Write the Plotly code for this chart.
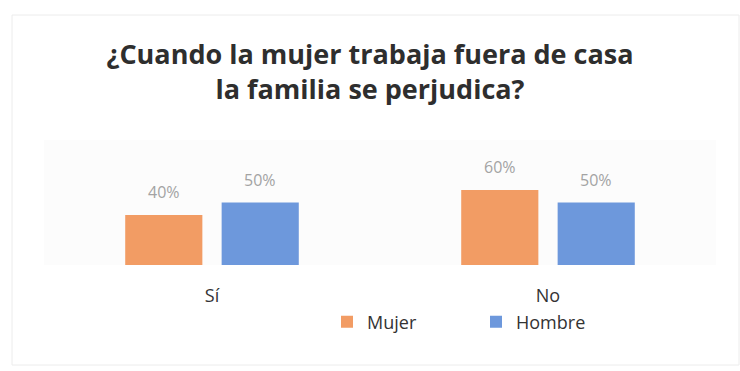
import plotly.graph_objects as go

# Survey answers by respondent group
categories = ["Sí", "No"]
mujer = [0.40, 0.60]
hombre = [0.50, 0.50]
series_names = ["Mujer", "Hombre"]

title_lines = ["¿Cuando la mujer trabaja fuera de casa", "la familia se perjudica?"]

ORANGE = "#F29C64"
BLUE = "#6D98DC"

W, H = 740, 371
M_L, M_R, M_T, M_B = 44, 24, 140, 106

fig = go.Figure()
for name, vals, col in [(series_names[0], mujer, ORANGE), (series_names[1], hombre, BLUE)]:
    fig.add_trace(go.Bar(
        x=categories, y=vals, name=name,
        marker=dict(color=col, line=dict(width=0)),
        hoverinfo="skip",
    ))

# Value labels above each bar, shifted to the bar's slot within its group
slot_shift = 48
for vals, dx in [(mujer, -slot_shift), (hombre, slot_shift)]:
    for cat, v in zip(categories, vals):
        fig.add_annotation(
            x=cat, y=v, xref="x", yref="y",
            text=f"{v:.0%}", showarrow=False,
            xshift=dx, yshift=23, yanchor="middle",
            font=dict(family="Open Sans", size=16, color="#a3a3a3"),
        )

fig.update_layout(
    width=W, height=H,
    margin=dict(l=M_L, r=M_R, t=M_T, b=M_B),
    paper_bgcolor="white",
    plot_bgcolor="#fcfcfc",
    barmode="group",
    bargap=0.426,
    bargroupgap=0.2,
    title=dict(
        text="<br>".join(title_lines),
        x=0.5, xanchor="center",
        y=1 - 64 / H, yanchor="middle", yref="container",
        font=dict(family="Open Sans", size=27, color="#2e2e2e", weight="bold"),
    ),
    xaxis=dict(
        showgrid=False, zeroline=False, showline=False, ticks="",
        tickfont=dict(family="Open Sans", size=18, color="#333333"),
        ticklabelstandoff=18,
    ),
    yaxis=dict(
        range=[0, 1.0], visible=False, showgrid=False, zeroline=False,
    ),
    legend=dict(
        orientation="h",
        x=(476 - M_L) / (W - M_L - M_R), xanchor="center",
        y=(265 - 322) / (H - M_T - M_B), yanchor="middle",
        font=dict(family="Open Sans", size=18, color="#333333"),
        bgcolor="rgba(0,0,0,0)",
        entrywidth=104,
    ),
    showlegend=True,
)

# Faint outer frame of the chart panel
fig.add_shape(
    type="rect", xref="paper", yref="paper",
    x0=(12 - M_L) / (W - M_L - M_R), x1=(739 - M_L) / (W - M_L - M_R),
    y0=(265 - 365) / (H - M_T - M_B), y1=(265 - 15) / (H - M_T - M_B),
    line=dict(color="#ececec", width=1), layer="below",
)

fig.write_html("out.html")
